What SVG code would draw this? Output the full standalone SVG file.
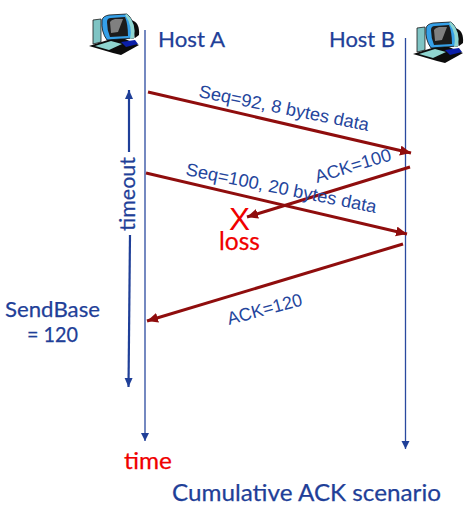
<svg xmlns="http://www.w3.org/2000/svg" xmlns:xlink="http://www.w3.org/1999/xlink" width="467" height="513" viewBox="0 0 467 513">
<style>
.hand{font-family:"Lato","Open Sans",sans-serif;fill:#1f3f98;stroke:#1f3f98;stroke-width:.25}
.lab{font-family:"Liberation Sans",Arial,sans-serif;fill:#24459c;font-size:18px}
.red{font-family:"Lato","Open Sans",sans-serif;fill:#f00000;stroke:#f00000;stroke-width:.25}
.x{font-family:"Liberation Sans",Arial,sans-serif;fill:#f00000}
.msg{stroke:#8f0d0d;stroke-width:3;fill:none;marker-end:url(#ar)}
.life{stroke:#2a4a9f;stroke-width:1.3;fill:none;marker-end:url(#ab)}
.tm{stroke:#1f3f98;stroke-width:2.2;fill:none;marker-end:url(#at)}
</style>
<defs>
<marker id="ar" markerUnits="userSpaceOnUse" markerWidth="14" markerHeight="12" refX="11" refY="5" orient="auto"><path d="M0 0L11 5L0 10Z" fill="#8f0d0d"/></marker>
<marker id="ab" markerUnits="userSpaceOnUse" markerWidth="10" markerHeight="10" refX="8" refY="4" orient="auto"><path d="M0 0L8 4L0 8Z" fill="#1f3f98"/></marker>
<marker id="at" markerUnits="userSpaceOnUse" markerWidth="12" markerHeight="12" refX="9" refY="4" orient="auto"><path d="M0 0L9 4L0 8Z" fill="#1f3f98"/></marker>
<g id="pc">
<path d="M4 20L12 19L12 42L4 44Z" fill="#7fc4c4" stroke="#1a1a1a" stroke-width=".8"/>
<path d="M0 46L22 39L36 39L50 45L32 55L24 53Z" fill="#0c0c0c"/>
<path d="M6 46L22 41L33 44L20 50Z" fill="#8fd5d0"/>
<path d="M32 42L46 40L49 44L37 47Z" fill="#0b1fa8"/>
<path d="M42 20Q51 22 50 35L46 38Z" fill="#0c0c0c"/>
<path d="M13 20Q14 16 20 15L38 14Q45 20 45 30L45 38L18 40Q12 32 13 20Z" fill="#35a0e8" stroke="#0c0c0c" stroke-width=".8"/>
<path d="M18 22Q18 18 22 18L36 17Q39 24 39 36L21 37Q18 30 18 22Z" fill="#1c1c1c"/>
<path d="M21 22Q22 20 26 19L34 19L29 32L22 33Z" fill="#808080"/>
<path d="M38 14Q48 24 45 38L41 39Q44 26 36 15Z" fill="#8fd5d0"/>
</g>
</defs>
<g id="connectors">
<line class="life" x1="145" y1="30" x2="145" y2="441"/>
<line class="life" x1="405.500" y1="38" x2="405.500" y2="449"/>
<line class="msg" x1="148" y1="92" x2="411" y2="153"/>
<line class="msg" x1="410" y1="167" x2="247" y2="217"/>
<line class="msg" x1="146" y1="173" x2="407" y2="234"/>
<line class="msg" x1="403" y1="244" x2="147" y2="321"/>
<line class="tm" x1="129" y1="152" x2="129" y2="90"/>
<line class="tm" x1="130" y1="235" x2="128.500" y2="387"/>
</g>
<g id="host-a"><use xlink:href="#pc" href="#pc" x="89" y="0"/><text class="hand" x="158" y="47" font-size="22" textLength="67" lengthAdjust="spacingAndGlyphs">Host A</text></g>
<g id="host-b"><use xlink:href="#pc" href="#pc" x="413" y="8"/><text class="hand" x="329" y="47" font-size="22" textLength="66" lengthAdjust="spacingAndGlyphs">Host B</text></g>
<g id="labels">
<text class="lab" transform="translate(198 97) rotate(11.3)" textLength="173" lengthAdjust="spacingAndGlyphs">Seq=92, 8 bytes data</text>
<text class="lab" transform="translate(185 175) rotate(11.3)" textLength="194" lengthAdjust="spacingAndGlyphs">Seq=100, 20 bytes data</text>
<text class="lab" transform="translate(317 183) rotate(-17)" textLength="79" lengthAdjust="spacingAndGlyphs">ACK=100</text>
<text class="lab" transform="translate(229 325) rotate(-15)" textLength="77" lengthAdjust="spacingAndGlyphs">ACK=120</text>
<text class="hand" transform="translate(135 231) rotate(-90)" font-size="22" textLength="74" lengthAdjust="spacingAndGlyphs">timeout</text>
<text class="hand" x="5" y="317" font-size="22" textLength="95" lengthAdjust="spacingAndGlyphs">SendBase</text>
<text class="hand" x="27" y="342" font-size="22" textLength="51" lengthAdjust="spacingAndGlyphs">= 120</text>
<text class="hand" x="172" y="501" font-size="24" textLength="269" lengthAdjust="spacingAndGlyphs">Cumulative ACK scenario</text>
</g>
<g id="loss">
<text class="x" x="229" y="230" font-size="32" textLength="21" lengthAdjust="spacingAndGlyphs">X</text>
<text class="red" x="219" y="250" font-size="25" textLength="41" lengthAdjust="spacingAndGlyphs">loss</text>
<text class="red" x="124" y="469" font-size="24" textLength="48" lengthAdjust="spacingAndGlyphs">time</text>
</g>
</svg>
